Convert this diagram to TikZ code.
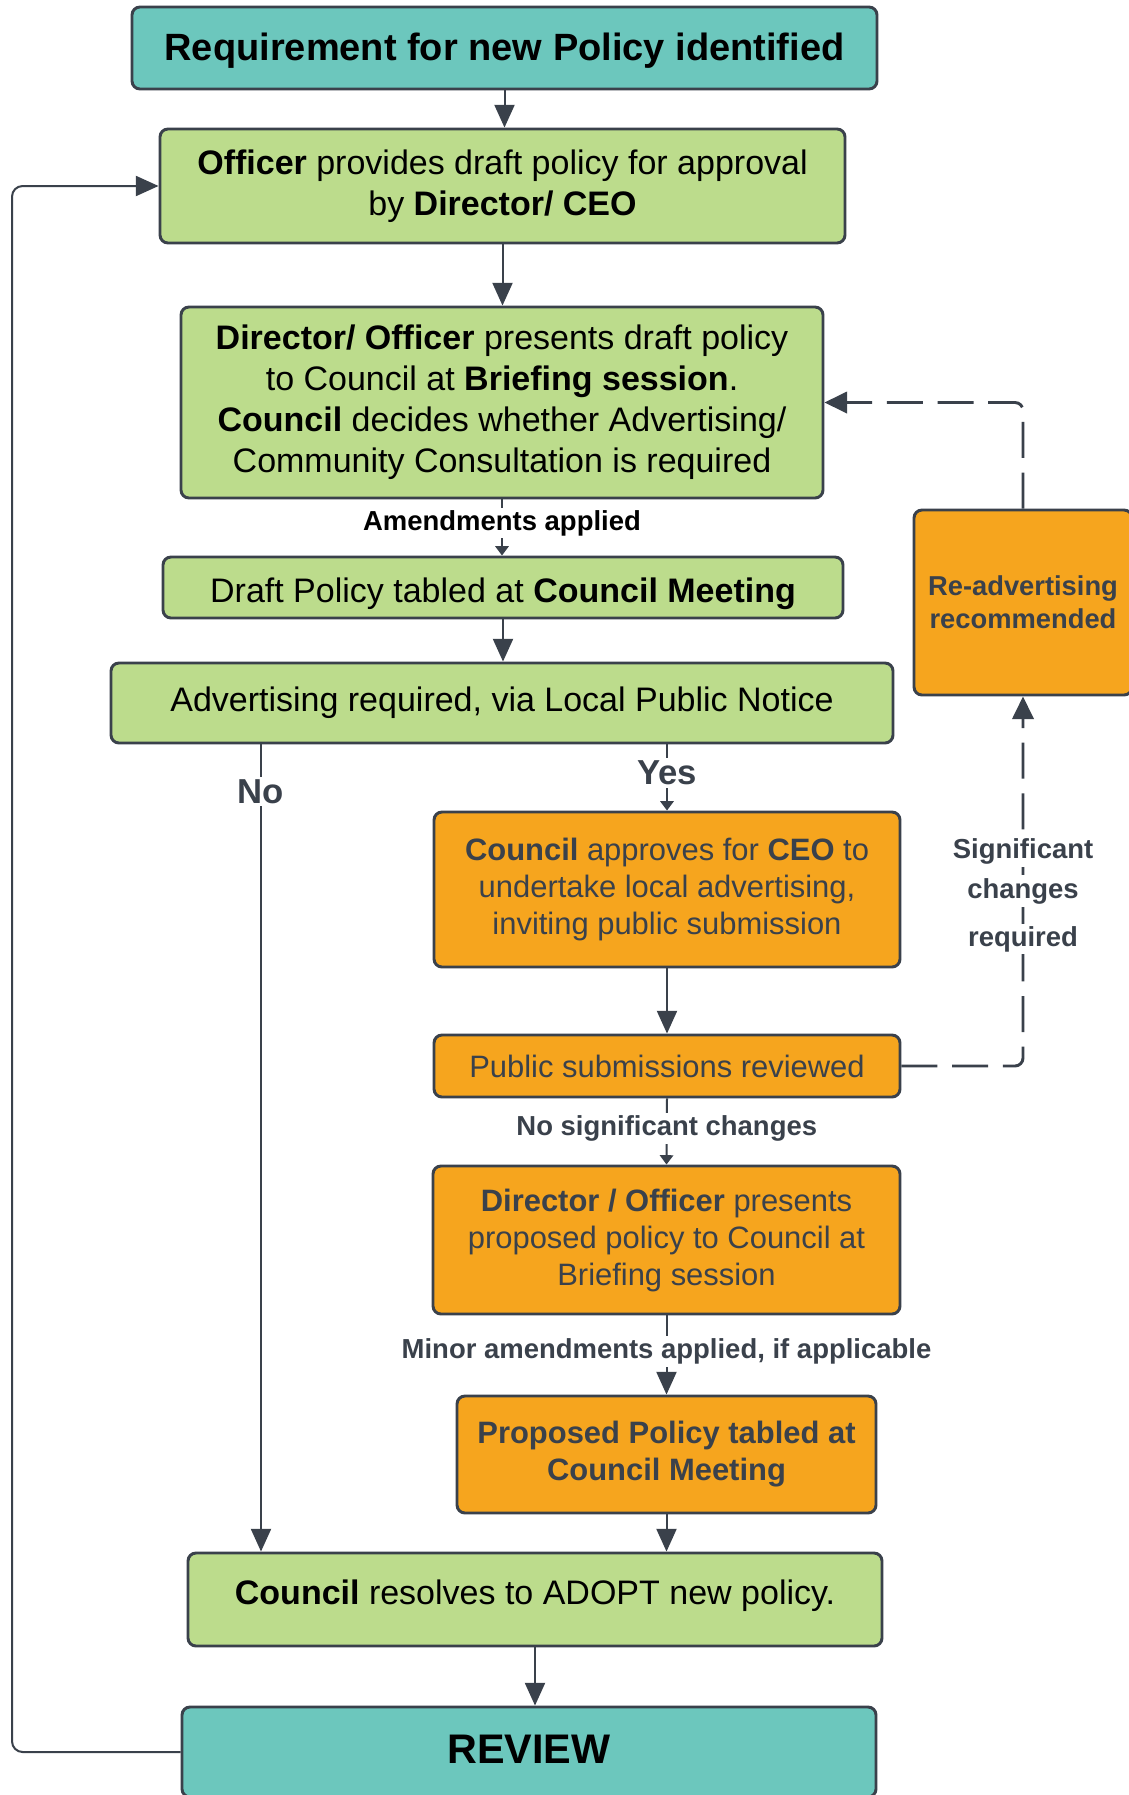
\documentclass[tikz,border=0pt]{standalone}
\usepackage{fontspec}
\setmainfont{Liberation Sans}
\usetikzlibrary{arrows.meta}

\definecolor{tealfill}{HTML}{6CC7BD}
\definecolor{greenfill}{HTML}{BCDC8C}
\definecolor{orangefill}{HTML}{F6A51E}
\definecolor{edge}{HTML}{3A414B}
\definecolor{ink}{HTML}{3A414B}

% move a one-line label up or down inside its box without changing the box
\newcommand{\nudge}[2]{\raisebox{#1}[\height][\depth]{#2}}

\begin{document}
\begin{tikzpicture}[x=0.75pt,y=-0.75pt,
  size/.style 2 args={minimum width=#1*0.75pt, minimum height=#2*0.75pt},
  box/.style={draw=edge, line width=2.2pt, rounded corners=6pt, inner sep=0pt, align=center},
  tealbox/.style={box, fill=tealfill, text=black, font=\fontsize{28.5}{34}\selectfont\bfseries},
  greenbox/.style={box, fill=greenfill, text=black, font=\fontsize{25.5}{30.75}\selectfont},
  orangebox/.style={box, fill=orangefill, text=ink, font=\fontsize{23.2}{27.75}\selectfont},
  link/.style={draw=edge, line width=1.5pt, -{Triangle[length=17pt,width=15pt]}},
  smalllink/.style={draw=edge, line width=1.5pt, -{Triangle[length=7pt,width=10pt]}},
  dashlink/.style={draw=edge, line width=2.2pt, dash pattern=on 27pt off 11pt,
    rounded corners=6pt, -{Triangle[length=17pt,width=16pt]}},
  elabel/.style={fill=white, inner sep=2pt, text=ink, font=\fontsize{20.6}{24}\selectfont\bfseries},
  branch/.style={fill=white, inner sep=2pt, text=ink, font=\fontsize{26}{30}\selectfont\bfseries},
]
% page
\useasboundingbox (0,0) rectangle (1128,1795);
\fill[white] (0,0) rectangle (1128,1795);

% guide coordinates for the side paths
\coordinate (nox) at (261,0);
\coordinate (leftx) at (12,0);

% main column
\node[tealbox, size={745}{82}] (req) at (504.5,48) {\nudge{-1.7pt}{Requirement for new Policy identified}};
\node[greenbox, size={685}{114}] (draft) at (502.5,186)
  {\textbf{Officer} provides draft policy for approval\\by \textbf{Director/ CEO}};
\node[greenbox, size={642}{191}] (brief) at (502,402.5)
  {\textbf{Director/ Officer} presents draft policy\\
   to Council at \textbf{Briefing session}.\\
   \textbf{Council} decides whether Advertising/\\
   Community Consultation is required};
\node[greenbox, size={680}{61}] (tabled) at (503,587.5)
  {\nudge{-4.5pt}{Draft Policy tabled at \textbf{Council Meeting}}};
\node[greenbox, size={782}{80}] (advert) at (502,703)
  {Advertising required, via Local Public Notice};

% advertising branch
\node[orangebox, size={466}{155}] (approve) at (667,889.5)
  {\textbf{Council} approves for \textbf{CEO} to\\
   undertake local advertising,\\
   inviting public submission};
\node[orangebox, size={466}{62}] (reviewed) at (667,1066) {Public submissions reviewed};
\node[orangebox, size={218}{185}, font=\fontsize{20.5}{24.75}\selectfont\bfseries] (readv) at (1023,602.5)
  {Re-advertising\\recommended};
\node[orangebox, size={467}{148}] (present) at (666.5,1240)
  {\textbf{Director / Officer} presents\\
   proposed policy to Council at\\
   Briefing session};
\node[orangebox, size={419}{117}, font=\fontsize{23.2}{27.75}\selectfont\bfseries] (proposed) at (666.5,1454.5)
  {Proposed Policy tabled at\\Council Meeting};

% outcome
\node[greenbox, size={694}{93}] (adopt) at (535,1599.5)
  {\nudge{2.5pt}{\textbf{Council} resolves to ADOPT new policy.}};
\node[tealbox, size={694}{90}, font=\fontsize{31}{36}\selectfont\bfseries] (rev) at (529,1752) {\nudge{2.3pt}{REVIEW}};

% connectors
\draw[link] (req.south) -- (req.south |- draft.north);
\draw[link] (draft.south) -- (draft.south |- brief.north);
\draw[smalllink] (brief.south) -- (brief.south |- tabled.north)
  node[pos=0.42, elabel, text=black] {Amendments applied};
\draw[link] (tabled.south) -- (tabled.south |- advert.north);
\draw[link] (nox |- advert.south) -- (nox |- adopt.north)
  node[pos=0.058, branch] {No};
\draw[smalllink] (approve.north |- advert.south) -- (approve.north)
  node[pos=0.43, branch] {Yes};
\draw[link] (approve.south) -- (reviewed.north);
\draw[smalllink] (reviewed.south) -- (present.north)
  node[pos=0.45, elabel] {No significant changes};
\draw[link] (present.south) -- (proposed.north)
  node[pos=0.45, elabel] {Minor amendments applied, if applicable};
\draw[link] (proposed.south) -- (proposed.south |- adopt.north);
\draw[link] (adopt.south) -- (adopt.south |- rev.north);

% return path from review to drafting
\draw[link, rounded corners=8pt] (rev.west) -- (leftx |- rev.west) -- (leftx |- draft.west) -- (draft.west);

% re-advertising loop
\draw[dashlink] (reviewed.east) -- (readv.south |- reviewed.east) -- (readv.south);
\draw[dashlink] (readv.north) -- (readv.north |- brief.east) -- (brief.east);
\node[elabel] at (1023,851) {Significant};
\node[elabel] at (1023,891) {changes};
\node[elabel] at (1023,939) {required};
\end{tikzpicture}
\end{document}
